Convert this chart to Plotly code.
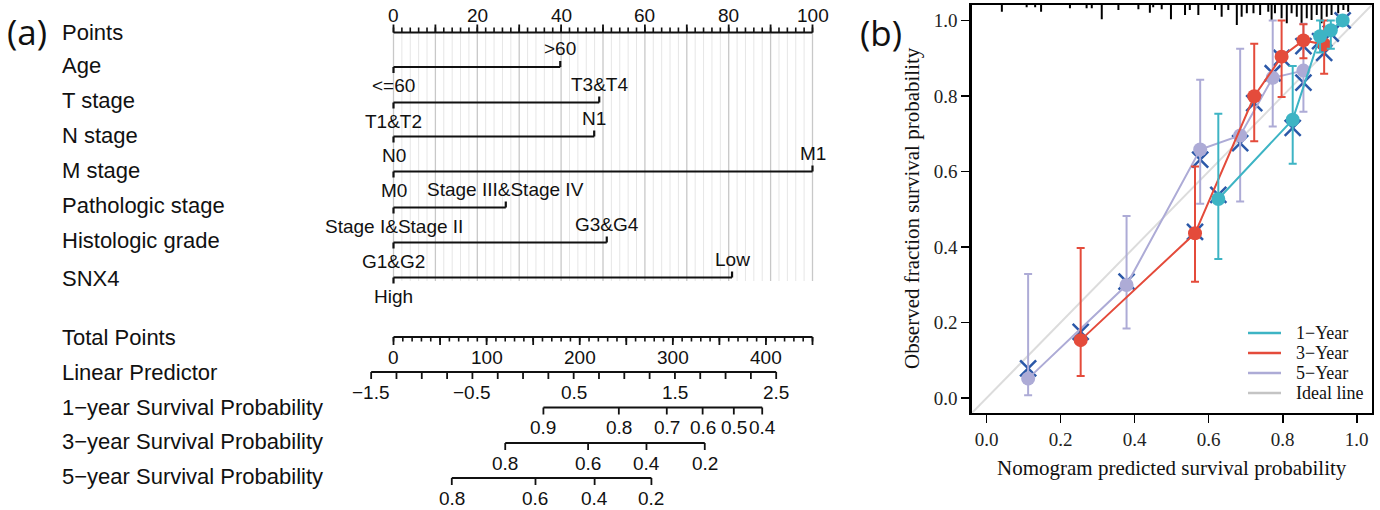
import numpy as np
import plotly.graph_objects as go

# ---------------- Data: nomogram (panel a) ----------------
variables = ["Age", "T stage", "N stage", "M stage", "Pathologic stage", "Histologic grade", "SNX4"]
levels_ref = ["<=60", "T1&T2", "N0", "M0", "Stage I&Stage II", "G1&G2", "High"]
levels_alt = [">60", "T3&T4", "N1", "M1", "Stage III&Stage IV", "G3&G4", "Low"]
points_alt = [39.8, 49.1, 47.9, 100.0, 26.8, 50.9, 80.8]

points_labels = [0, 20, 40, 60, 80, 100]
total_points_max = 450
total_points_labels = [0, 100, 200, 300, 400]
lp_labels = [-1.5, -0.5, 0.5, 1.5, 2.5]
lp_range = [-1.5, 2.5]
lp_anchor_tp = [-24.0, 411.0]          # total points at lp_range ends

surv1_labels = [0.9, 0.8, 0.7, 0.6, 0.5, 0.4]
surv1_tp = [161.0, 242.0, 293.5, 332.0, 365.5, 396.0]
surv3_labels = [0.8, 0.6, 0.4, 0.2]
surv3_tp = [120.0, 209.0, 271.7, 334.3]
surv5_labels = [0.8, 0.6, 0.4, 0.2]
surv5_tp = [62.6, 152.5, 216.0, 277.0]

bottom_rows = ["Total Points", "Linear Predictor", "1\u2212year Survival Probability",
               "3\u2212year Survival Probability", "5\u2212year Survival Probability"]

# ---------------- Data: calibration (panel b) ----------------
cal1_pred = [0.626, 0.827, 0.901, 0.930, 0.962]
cal1_obs = [0.527, 0.737, 0.958, 0.974, 1.000]
cal1_lo = [0.368, 0.620, 0.915, 0.925, 1.000]
cal1_hi = [0.753, 0.879, 1.000, 1.000, 1.000]
cal1_corr = [0.538, 0.715, 0.945, 0.965, 1.000]

cal3_pred = [0.254, 0.563, 0.723, 0.797, 0.856, 0.912]
cal3_obs = [0.153, 0.436, 0.799, 0.904, 0.947, 0.936]
cal3_lo = [0.058, 0.308, 0.680, 0.797, 0.900, 0.859]
cal3_hi = [0.397, 0.613, 0.938, 1.000, 0.990, 1.000]
cal3_corr = [0.175, 0.440, 0.781, 0.901, 0.932, 0.914]

cal5_pred = [0.112, 0.378, 0.577, 0.685, 0.773, 0.856]
cal5_obs = [0.051, 0.299, 0.658, 0.695, 0.848, 0.867]
cal5_lo = [0.007, 0.184, 0.514, 0.520, 0.719, 0.758]
cal5_hi = [0.328, 0.482, 0.843, 0.925, 1.000, 0.991]
cal5_corr = [0.078, 0.308, 0.631, 0.675, 0.860, 0.835]

rug_x = [0.041, 0.108, 0.131, 0.147, 0.225, 0.270, 0.284, 0.311, 0.356, 0.410, 0.441, 0.450,
         0.473, 0.498, 0.536, 0.549, 0.572, 0.617, 0.635, 0.653, 0.676, 0.689, 0.703, 0.721,
         0.739, 0.761, 0.770, 0.779, 0.797, 0.811, 0.824, 0.838, 0.851, 0.865, 0.878, 0.892,
         0.905, 0.919, 0.932, 0.950, 0.964, 0.977]
rug_freq = [6.7, 2.3, 2.3, 6.7, 3.3, 3.3, 3.3, 14.3, 5.0, 4.3, 7.7, 2.3,
            4.3, 14.3, 10.0, 5.0, 10.0, 5.0, 11.7, 5.0, 20.0, 11.7, 8.3, 8.3,
            10.0, 6.7, 15.0, 8.3, 13.3, 18.3, 8.3, 11.7, 20.0, 13.3, 15.0, 10.0,
            18.3, 11.7, 10.0, 8.3, 5.0, 6.7]

legend_names = ["1\u2212Year", "3\u2212Year", "5\u2212Year", "Ideal line"]

# ---------------- Styles / layout ----------------
OFF = 0                      # page body margin is removed by post_script
W, H = 1380, 510
SANS = "Liberation Sans, Arial, sans-serif"
SERIF = "Liberation Serif, Times New Roman, serif"
BLACK = "#111111"
COL1 = "#3DB4C4"
COL3 = "#E44B3B"
COL5 = "#ADABD6"
XCOL = "#2B58A8"
IDEAL = "#DCDCDC"
IDEAL_LEG = "#C4C4C4"


def sx(px):
    return (px - OFF) / W


def sy(py):
    return 1 - (py - OFF) / H


# left panel mapping (x in "Points" units, y in screen pixels)
PX0, PX_PER_PT = 393.5, 4.19
LEFT_DOM = [0.0, 0.65]
xr0 = -(PX0 - OFF) / PX_PER_PT
xr1 = xr0 + LEFT_DOM[1] * W / PX_PER_PT

# right panel frame in screen pixels
FR_L, FR_R, FR_T, FR_B = 971.7, 1371.7, 5.0, 412.7
XR2 = [-0.0405, 1.0405]
YR2 = [-0.0392, 1.0408]
PX_PER_Y2 = (FR_B - FR_T) / (YR2[1] - YR2[0])

fig = go.Figure()
annos = []


def tp_to_pts(tp):
    return np.asarray(tp, dtype=float) * 100.0 / total_points_max


def lp_to_tp(lp):
    lp = np.asarray(lp, dtype=float)
    s = (lp_anchor_tp[1] - lp_anchor_tp[0]) / (lp_range[1] - lp_range[0])
    return lp_anchor_tp[0] + (lp - lp_range[0]) * s


def segs(x0, x1, y0, y1, color=BLACK, width=2, xa="x", ya="y"):
    xs, ys = [], []
    for a, b, c, d in zip(x0, x1, y0, y1):
        xs += [a, b, None]
        ys += [c, d, None]
    fig.add_trace(go.Scatter(x=xs, y=ys, mode="lines", xaxis=xa, yaxis=ya,
                             line=dict(color=color, width=width),
                             hoverinfo="skip", showlegend=False))


def txt(x, y, s, size=19, xanchor="center", xref="x", yref="y", family=SANS,
        angle=0, color=BLACK):
    annos.append(dict(x=x, y=y, text=s, xref=xref, yref=yref, showarrow=False,
                      xanchor=xanchor, yanchor="middle", textangle=angle,
                      font=dict(family=family, size=size, color=color)))


def fmt(v):
    return ("%g" % v).replace("-", "\u2212")


# ---------------- Panel (a): nomogram ----------------
GRID_TOP, GRID_BOT = 33.5, 281.0
minor_g = [v for v in np.arange(0, 101, 2) if v % 10 != 0]
major_g = list(np.arange(0, 101, 10))
segs(minor_g, minor_g, [GRID_TOP] * len(minor_g), [GRID_BOT] * len(minor_g), color="#E6E6E6", width=1)
segs(major_g, major_g, [GRID_TOP] * len(major_g), [GRID_BOT] * len(major_g), color="#C8C8C8", width=1.3)

# Points axis
AY = 32.5
segs([0], [100], [AY], [AY], width=2)
mt = list(np.arange(0, 101, 2))
segs(mt, mt, [AY] * len(mt), [AY - 5] * len(mt), width=1.6)
Mt = list(np.arange(0, 101, 10))
segs(Mt, Mt, [AY] * len(Mt), [AY - 8] * len(Mt), width=1.8)
for v in points_labels:
    txt(v, AY - 17, str(v))

# variable rows
row_line_y = [67.0, 102.5, 136.5, 171.5, 207.5, 242.5, 277.5]
row_label_y = [65.5, 100.5, 135.5, 170.5, 205.5, 240.5, 278.0]
for name, ref, alt, p, ly, ty in zip(variables, levels_ref, levels_alt, points_alt,
                                     row_line_y, row_label_y):
    segs([0], [p], [ly], [ly], width=2.2)
    segs([0, p], [0, p], [ly, ly], [ly + 6, ly - 6], width=2.2)
    txt(p, ly - 18.5, alt)
    txt(0, ly + 18.5, ref)
    txt(sx(60), ty, name, size=22, xanchor="left", xref="paper")

txt(sx(60), 32.0, "Points", size=22, xanchor="left", xref="paper")

# Total points axis
TY = 337.0
segs([0], [tp_to_pts(total_points_max)], [TY], [TY], width=2)
tmin = tp_to_pts(np.arange(0, total_points_max + 1, 10))
segs(tmin, tmin, [TY] * len(tmin), [TY + 4.5] * len(tmin), width=1.6)
tmaj = tp_to_pts(np.arange(0, total_points_max + 1, 50))
segs(tmaj, tmaj, [TY] * len(tmaj), [TY + 8] * len(tmaj), width=1.8)
for v in total_points_labels:
    txt(float(tp_to_pts(v)), TY + 20, str(v))

# Linear predictor axis
LY = 372.0
lp_ticks = np.arange(lp_range[0], lp_range[1] + 1e-9, 0.25)
lpx = tp_to_pts(lp_to_tp(lp_ticks))
segs([lpx[0]], [lpx[-1]], [LY], [LY], width=2)
segs(lpx, lpx, [LY] * len(lpx), [LY + 7] * len(lpx), width=1.8)
for v in lp_labels:
    txt(float(tp_to_pts(lp_to_tp(v))), LY + 20, fmt(v))

# survival probability axes
for labs, tps, yy in [(surv1_labels, surv1_tp, 407.5), (surv3_labels, surv3_tp, 443.0),
                      (surv5_labels, surv5_tp, 478.0)]:
    xs = tp_to_pts(tps)
    segs([xs[0]], [xs[-1]], [yy], [yy], width=2)
    segs(xs, xs, [yy] * len(xs), [yy + 7] * len(xs), width=1.8)
    for v, x in zip(labs, xs):
        txt(float(x), yy + 20, fmt(v))

for name, yy in zip(bottom_rows, [337.5, 372.5, 407.0, 441.5, 476.0]):
    txt(sx(60), yy, name, size=22, xanchor="left", xref="paper")

txt(sx(5), 31, "(a)", size=35, xanchor="left", xref="paper", family="Open Sans, sans-serif")

# ---------------- Panel (b): calibration ----------------
fig.add_trace(go.Scatter(x=XR2, y=XR2, mode="lines", xaxis="x2", yaxis="y2",
                         line=dict(color=IDEAL, width=2), hoverinfo="skip", showlegend=False))
rl = [f / PX_PER_Y2 for f in rug_freq]
segs(rug_x, rug_x, [YR2[1]] * len(rug_x), [YR2[1] - h for h in rl], color="black",
     width=2, xa="x2", ya="y2")

series = [
    (cal5_pred, cal5_obs, cal5_lo, cal5_hi, cal5_corr, COL5),
    (cal3_pred, cal3_obs, cal3_lo, cal3_hi, cal3_corr, COL3),
    (cal1_pred, cal1_obs, cal1_lo, cal1_hi, cal1_corr, COL1),
]
for pred, obs, lo, hi, corr, col in series:
    fig.add_trace(go.Scatter(x=pred, y=corr, mode="markers", xaxis="x2", yaxis="y2",
                             marker=dict(symbol="x-thin", size=16,
                                         line=dict(color=XCOL, width=2.5)),
                             hoverinfo="skip", showlegend=False, cliponaxis=False))
for pred, obs, lo, hi, corr, col in series:
    o = np.array(obs)
    fig.add_trace(go.Scatter(
        x=pred, y=obs, mode="lines+markers", xaxis="x2", yaxis="y2",
        line=dict(color=col, width=2),
        marker=dict(symbol="circle", size=14, color=col),
        error_y=dict(type="data", symmetric=False, array=list(np.array(hi) - o),
                     arrayminus=list(o - np.array(lo)), color=col, thickness=2, width=4),
        hoverinfo="skip", showlegend=False, cliponaxis=False))

shapes = []
for name, col, yy in zip(legend_names, [COL1, COL3, COL5, IDEAL_LEG], [333, 353, 373, 393]):
    shapes.append(dict(type="line", xref="paper", yref="paper",
                       x0=sx(1248), x1=sx(1281), y0=sy(yy), y1=sy(yy),
                       line=dict(color=col, width=2.5)))
    txt(sx(1294), sy(yy), name, size=18, xanchor="left", xref="paper", yref="paper",
        family=SERIF)

txt(sx(1171.7), sy(468), "Nomogram predicted survival probability", size=21,
    xref="paper", yref="paper", family=SERIF)
txt(sx(912), sy(208), "Observed fraction survival probability", size=21,
    xref="paper", yref="paper", family=SERIF, angle=-90)
txt(sx(858), sy(33), "(b)", size=35, xanchor="left", xref="paper", yref="paper",
    family="Open Sans, sans-serif")

ticks2 = [0, 0.2, 0.4, 0.6, 0.8, 1.0]
ax2 = dict(showline=True, mirror=True, linecolor="black", linewidth=2.5, ticks="outside",
           ticklen=8, tickwidth=1.6, tickcolor="black", tickvals=ticks2,
           ticktext=["%.1f" % t for t in ticks2], showgrid=False, zeroline=False,
           tickfont=dict(family=SERIF, size=19, color="#222222"), fixedrange=True)

fig.update_layout(
    width=W, height=H, margin=dict(l=0, r=0, t=0, b=0),
    paper_bgcolor="white", plot_bgcolor="rgba(0,0,0,0)",
    xaxis=dict(domain=LEFT_DOM, range=[xr0, xr1], visible=False, fixedrange=True),
    yaxis=dict(domain=[0, 1], range=[OFF + H, OFF], visible=False, fixedrange=True),
    xaxis2=dict(domain=[sx(FR_L), sx(FR_R)], range=XR2, anchor="y2", **ax2),
    yaxis2=dict(domain=[sy(FR_B), sy(FR_T)], range=YR2, anchor="x2", **ax2),
    annotations=annos, shapes=shapes, showlegend=False,
)

fig.write_html("out.html", config={"displayModeBar": False, "staticPlot": True},
               post_script="document.body.style.margin='0px';"
                           "document.body.style.overflow='hidden';")
